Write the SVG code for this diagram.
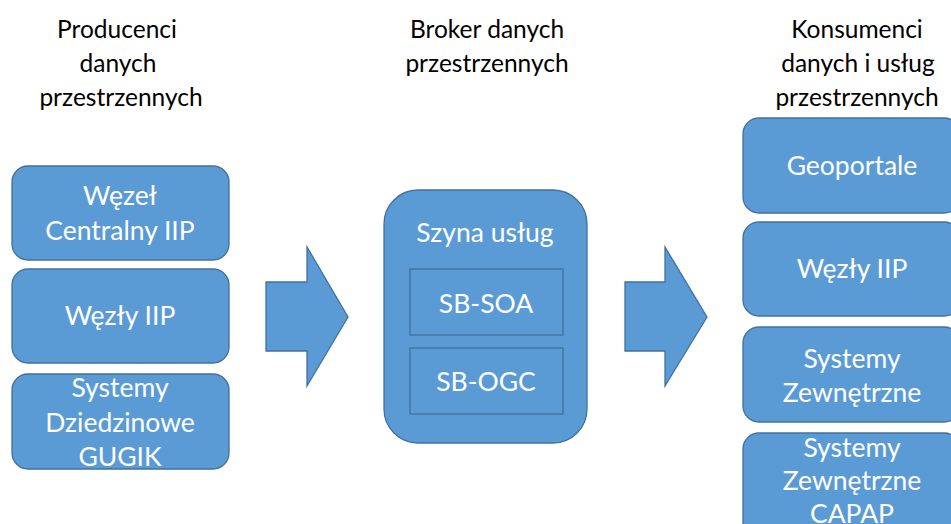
<svg xmlns="http://www.w3.org/2000/svg" width="951" height="524" viewBox="0 0 951 524">
<style>
.box{fill:#5B9BD5;stroke:#41719C;stroke-width:1.3}
.in{fill:none;stroke:#41719C;stroke-width:1.3}
.t{font-family:Lato,"Open Sans",sans-serif;font-size:26.5px;fill:#FFFFFF;text-anchor:middle}
.h{font-family:Lato,"Open Sans",sans-serif;font-size:24.5px;fill:#000000;text-anchor:middle}
</style>
<rect width="951" height="524" fill="#FFFFFF"/>
<g id="headers">
<text class="h" x="117" y="38">Producenci</text>
<text class="h" x="118" y="72">danych</text>
<text class="h" x="121" y="106">przestrzennych</text>
<text class="h" x="487" y="38">Broker danych</text>
<text class="h" x="487" y="72">przestrzennych</text>
<text class="h" x="857" y="38">Konsumenci</text>
<text class="h" x="858" y="72">danych i usług</text>
<text class="h" x="857" y="106">przestrzennych</text>
</g>
<g id="connectors">
<polygon class="box" points="266,282 307,282 307,247 348,317 307,386 307,351 266,351"/>
<polygon class="box" points="625,282 665,282 665,247 707,317 665,386 665,351 625,351"/>
</g>
<g id="p1"><rect class="box" x="12" y="166" width="217" height="94" rx="16"/>
<text class="t" x="120" y="205">Węzeł</text><text class="t" x="120" y="240">Centralny IIP</text></g>
<g id="p2"><rect class="box" x="12" y="269" width="217" height="94" rx="16"/>
<text class="t" x="120" y="325">Węzły IIP</text></g>
<g id="p3"><rect class="box" x="12" y="374" width="217" height="95" rx="16"/>
<text class="t" x="120" y="397">Systemy</text><text class="t" x="120" y="432">Dziedzinowe</text><text class="t" x="120" y="466">GUGIK</text></g>
<g id="broker"><rect class="box" x="384" y="190" width="203" height="253" rx="34"/>
<text class="t" x="485" y="242">Szyna usług</text>
<g id="sbsoa"><rect class="in" x="410" y="269" width="153" height="66"/><text class="t" x="486" y="313">SB-SOA</text></g>
<g id="sbogc"><rect class="in" x="410" y="348" width="153" height="66"/><text class="t" x="486" y="391">SB-OGC</text></g>
</g>
<g id="c1"><rect class="box" x="743" y="118" width="217" height="95" rx="16"/>
<text class="t" x="852" y="175">Geoportale</text></g>
<g id="c2"><rect class="box" x="743" y="222" width="217" height="94" rx="16"/>
<text class="t" x="852" y="278">Węzły IIP</text></g>
<g id="c3"><rect class="box" x="743" y="327" width="217" height="95" rx="16"/>
<text class="t" x="852" y="368">Systemy</text><text class="t" x="852" y="402">Zewnętrzne</text></g>
<g id="c4"><rect class="box" x="743" y="433" width="217" height="110" rx="16"/>
<text class="t" x="852" y="457">Systemy</text><text class="t" x="852" y="490">Zewnętrzne</text><text class="t" x="852" y="523">CAPAP</text></g>
</svg>
